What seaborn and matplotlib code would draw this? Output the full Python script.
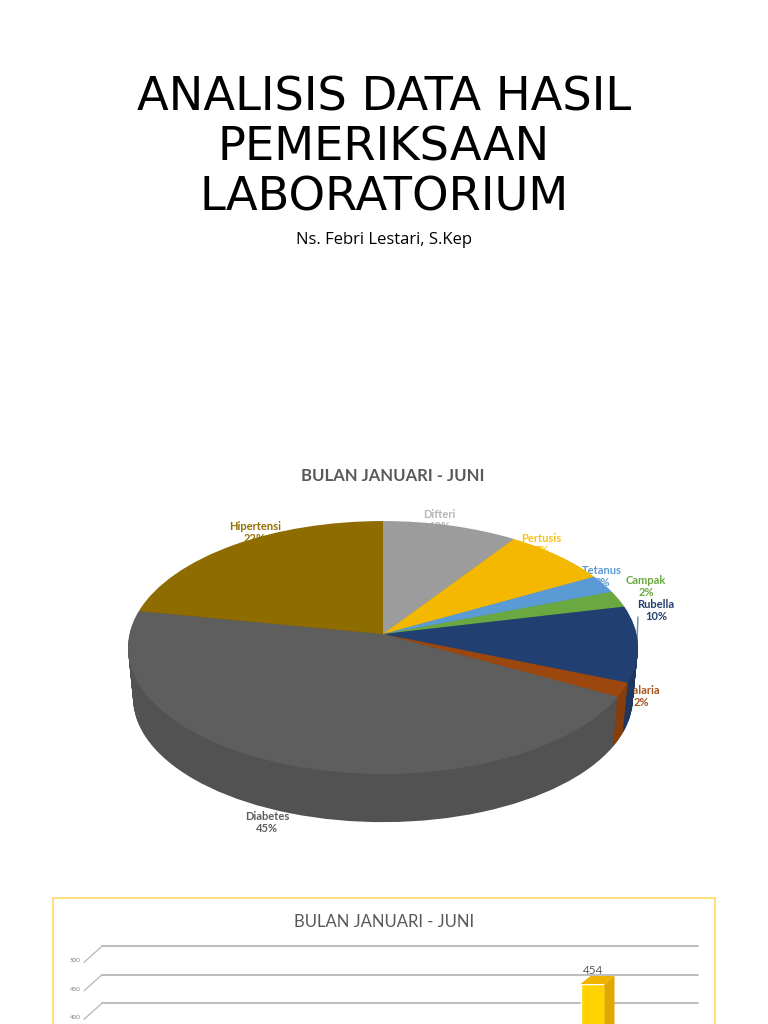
"""Slide: Analisis data hasil pemeriksaan laboratorium"""
import matplotlib
matplotlib.use("Agg")
import matplotlib.pyplot as plt
import numpy as np
import pandas as pd
import seaborn as sns
from matplotlib.colors import to_rgb
from matplotlib.patches import Polygon, Rectangle
from matplotlib.transforms import IdentityTransform, Transform

diseases = ["Difteri", "Pertusis", "Tetanus", "Campak", "Rubella", "Malaria", "Diabetes", "Hipertensi"]
pie_shares = [9.5, 7.5, 2.3, 2.1, 9.7, 1.8, 45.1, 22.0]
pie_labels = ["10%", "7%", "2%", "2%", "10%", "2%", "45%", "22%"]
pie_colors = ["#9c9c9c", "#f4b800", "#5b9bd5", "#6aa842", "#213f70", "#9b470e", "#5e5e5e", "#8e6c00"]
label_colors = ["#b5b5b5", "#f6c21c", "#5b9bd5", "#6aa842", "#213f70", "#a8521c", "#5e5e5e", "#947000"]
label_xy = [(439, 514), (541, 539), (602, 571), (646, 580), (656, 604), (641, 690), (267, 816), (255, 527)]

# only Diabetes is readable in the crop, the others sit below the slide edge
counts = [101, 71, 20, 20, 101, 20, 454, 222]
y_ticks = [400, 450, 500]

sns.set_style("white")
plt.rcParams["font.family"] = ["Lato", "DejaVu Sans"]


class TiltedDisc(Transform):
    """Unit circle to slide pixels, with the back of the disc foreshortened."""
    input_dims = output_dims = 2
    is_affine = False

    def __init__(self, drop=0.0, shrink=1.0):
        super().__init__()
        self.drop = drop
        self.shrink = shrink

    def transform_non_affine(self, values):
        values = np.asarray(values)
        w = 1 + 0.1067 * values[:, 1]
        px = 383 + 253.5 * self.shrink * values[:, 0] / w
        py = 634 - 125 * self.shrink * values[:, 1] / w + self.drop
        return np.column_stack([px, py])


fig = plt.figure(figsize=(7.68, 10.24), dpi=100, facecolor="white")
page = fig.add_axes([0, 0, 1, 1])


def draw_disc(colors, drop, shrink):
    wedges, _ = page.pie(pie_shares, colors=colors, startangle=90, counterclock=False)
    for w in wedges:
        w.set_transform(TiltedDisc(drop, shrink) + page.transData)
        w.set_clip_on(False)
        w.set_linewidth(0)


depth = 51
side_colors = [tuple(c * 0.87 for c in to_rgb(col)) for col in pie_colors]
for d in range(depth, 0, -1):
    draw_disc(side_colors, d, 1 - 0.02 * d / depth)
draw_disc(pie_colors, 0, 1)

page.set_xlim(0, 768)
page.set_ylim(1024, 0)
page.set_aspect("auto")
page.axis("off")

for line, y in zip(["ANALISIS DATA HASIL", "PEMERIKSAAN", "LABORATORIUM"], [98, 148, 198]):
    page.text(384, y, line, ha="center", va="center", fontsize=33.4, family="DejaVu Sans", color="black")
page.text(384, 240, "Ns. Febri Lestari, S.Kep", ha="center", va="center", fontsize=12, family="Open Sans", color="black")
page.text(393, 476, "BULAN JANUARI - JUNI", ha="center", va="center", fontsize=12, fontweight="bold", color="#595959")

for name, pct, col, (x, y) in zip(diseases, pie_labels, label_colors, label_xy):
    page.text(x, y, name, ha="center", va="center", fontsize=8, fontweight="bold", color=col, zorder=0.5)
    page.text(x, y + 12, pct, ha="center", va="center", fontsize=8, fontweight="bold", color=col, zorder=0.5)
page.plot([638, 637], [617, 640], color="#6f87ab", lw=1, zorder=0.5)

# lower chart card
page.add_patch(Rectangle((53, 898), 662, 140, facecolor="white", edgecolor="#ffd966", lw=1.2, zorder=0.4))
page.text(384, 922, "BULAN JANUARI - JUNI", ha="center", va="center", fontsize=12, color="#595959")

# bar plane: 454 lands at y=984 and 50 units take 28.5 px
px_per_unit = 28.5 / 50
y_low = 454 - (1024 - 984) / px_per_unit
y_high = 454 + (984 - 930) / px_per_unit
bars = fig.add_axes([105.0 / 768, 0, 600 / 768, (1024 - 930) / 1024])
bars.patch.set_alpha(0)
df = pd.DataFrame({"Penyakit": diseases, "Jumlah": counts})
sns.barplot(data=df, x="Penyakit", y="Jumlah", color="#ffd200", saturation=1, width=0.32, ax=bars)
bars.set_ylim(y_low, y_high)
bars.axis("off")


def plane_y(value):
    return 984 - (value - 454) * px_per_unit


for tick in y_ticks:
    back = plane_y(tick) - 11.5
    page.plot([102, 84], [back, back + 16], color="#bdbdbd", lw=1, zorder=0.6)
    page.plot([102, 698], [back, back], color="#bdbdbd", lw=1.4, zorder=0.6)
    page.text(75, back + 14.5, str(tick), ha="center", va="center", fontsize=4.5, color="#7f7f7f")

# extrude the Diabetes bar from its drawn position
bar = bars.patches[diseases.index("Diabetes")]
left, right = bar.get_x(), bar.get_x() + bar.get_width()
(x0, y0), (x1, y1) = bars.transData.transform([(left, bar.get_height()), (right, y_low)])
top_poly = [(x0, y0), (x1, y0), (x1 + 10, y0 + 8), (x0 + 10, y0 + 8)]
side_poly = [(x1, y0), (x1 + 10, y0 + 8), (x1 + 10, y1), (x1, y1)]
bars.add_patch(Polygon(top_poly, transform=IdentityTransform(), facecolor="#f0b400", lw=0, clip_on=False))
bars.add_patch(Polygon(side_poly, transform=IdentityTransform(), facecolor="#dfa800", lw=0, clip_on=False))
page.text(593, 971, "454", ha="center", va="center", fontsize=8.5, color="#595959")

fig.savefig("out.png", dpi=100)
